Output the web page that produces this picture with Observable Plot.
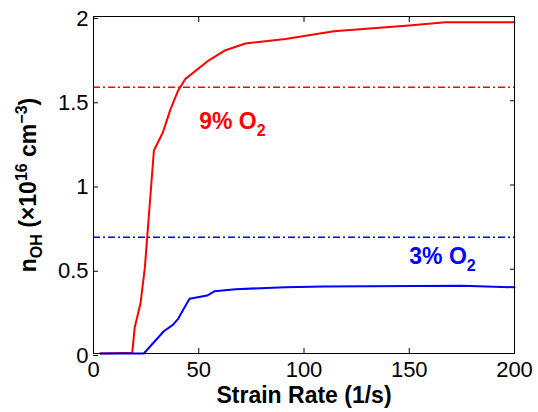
<!DOCTYPE html>
<html><head><meta charset="utf-8">
<script src="https://cdn.jsdelivr.net/npm/d3@7"></script>
<script src="https://cdn.jsdelivr.net/npm/@observablehq/plot@0.6"></script>
<style>body{margin:0;background:#fff}</style>
</head><body><div id="chart"></div>
<script>
// 9% O2 series
const strainRate9 = [3.3, 18.4, 19.6, 22.3, 24.4, 28.7, 32.9, 36.6, 40.2, 43.7, 54.8, 62.7, 72.2, 91.2, 114.2, 149.8, 167.2, 200];
const nOH9 = [0, 0.005, 0.156, 0.295, 0.51, 1.205, 1.31, 1.45, 1.56, 1.63, 1.74, 1.80, 1.84, 1.867, 1.913, 1.947, 1.966, 1.966];
// 3% O2 series
const strainRate3 = [3.3, 23.9, 33.4, 37.7, 40.2, 45.6, 54, 57.6, 67.5, 91.2, 109.4, 175, 200];
const nOH3 = [0, 0, 0.132, 0.17, 0.206, 0.325, 0.344, 0.37, 0.382, 0.393, 0.398, 0.402, 0.393];
// reference (dash-dot) levels
const refLevel9 = 1.58;
const refLevel3 = 0.69;
const seriesColors = ["#ff0000", "#0000ff"];
const xTicks = [0, 50, 100, 150, 200];
const yTicks = [0, 0.5, 1, 1.5, 2];
const labelPos9 = {x: 50.2, y: 1.335};
const labelPos3 = {x: 150.0, y: 0.534};

const series9 = strainRate9.map((x, i) => ({x, y: nOH9[i]}));
const series3 = strainRate3.map((x, i) => ({x, y: nOH3[i]}));

const SVGNS = "http://www.w3.org/2000/svg";
function rich(segments) {
  return (index, scales, values, dims, context, next) => {
    const g = next(index, scales, values, dims, context);
    g.querySelectorAll("text").forEach(t => {
      t.textContent = "";
      for (const s of segments) {
        const ts = document.createElementNS(SVGNS, "tspan");
        ts.textContent = s.t;
        if (s.size) ts.setAttribute("font-size", s.size);
        if (s.dy) ts.setAttribute("dy", s.dy);
        t.appendChild(ts);
      }
    });
    return g;
  };
}

const chart = Plot.plot({
  width: 538,
  height: 412,
  marginLeft: 93,
  marginRight: 24,
  marginTop: 16,
  marginBottom: 59,
  style: {fontFamily: "'Liberation Sans', Arial, Helvetica, sans-serif", fontSize: "22px", color: "black", background: "white"},
  x: {domain: [0, 200], axis: null},
  y: {domain: [0, 2], axis: null},
  marks: [
    Plot.ruleY([refLevel9], {stroke: seriesColors[0], strokeWidth: 1.5, strokeDasharray: "7,3,2,3"}),
    Plot.ruleY([refLevel3], {stroke: seriesColors[1], strokeWidth: 1.5, strokeDasharray: "7,3,2,3"}),
    Plot.line(series9, {x: "x", y: "y", stroke: seriesColors[0], strokeWidth: 2}),
    Plot.line(series3, {x: "x", y: "y", stroke: seriesColors[1], strokeWidth: 2}),
    Plot.text([labelPos9], {x: "x", y: "y", text: () => "9% O2", fill: seriesColors[0], fontSize: 23, fontWeight: "bold", textAnchor: "start", lineAnchor: "bottom",
      render: rich([{t: "9% O"}, {t: "2", size: 16, dy: 7}])}),
    Plot.text([labelPos3], {x: "x", y: "y", text: () => "3% O2", fill: seriesColors[1], fontSize: 23, fontWeight: "bold", textAnchor: "start", lineAnchor: "bottom",
      render: rich([{t: "3% O"}, {t: "2", size: 16, dy: 7}])}),
    Plot.frame({stroke: "black", strokeWidth: 1}),
    Plot.axisX({anchor: "bottom", ticks: xTicks, tickSize: -5, tickPadding: 13, tickFormat: d => String(d), label: null, fontSize: 22}),
    Plot.axisX({anchor: "top", ticks: xTicks, tickSize: -5, tickFormat: () => "", label: null}),
    Plot.axisY({anchor: "left", ticks: yTicks, tickSize: -5, tickPadding: 10, tickFormat: d => String(d), label: null, fontSize: 22, dy: 2}),
    Plot.axisY({anchor: "right", ticks: yTicks, tickSize: -5, tickFormat: () => "", label: null}),
    Plot.text(["Strain Rate (1/s)"], {frameAnchor: "bottom", dy: 49, lineAnchor: "bottom", textAnchor: "middle", fontSize: 23, fontWeight: "bold", fill: "black"}),
    Plot.text(["n_OH (×10^16 cm^-3)"], {frameAnchor: "left", dx: -58, rotate: -90, lineAnchor: "bottom", textAnchor: "middle", fontSize: 23, fontWeight: "bold", fill: "black",
      render: rich([{t: "n"}, {t: "OH", size: 16, dy: 6}, {t: " (×10", dy: -6}, {t: "16", size: 16, dy: -9}, {t: " cm", dy: 9}, {t: "−3", size: 16, dy: -9}, {t: ")", dy: 9}])})
  ]
});
document.getElementById("chart").appendChild(chart);
</script>
</body></html>
